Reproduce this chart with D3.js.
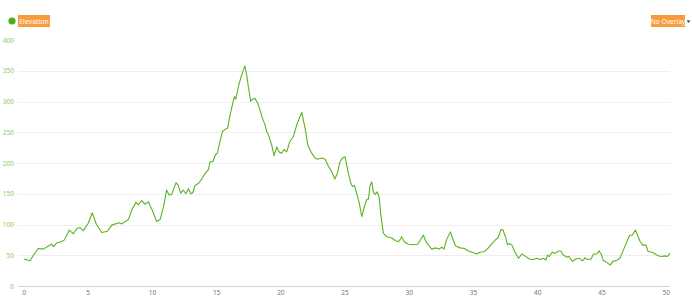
<!DOCTYPE html>
<html>
<head>
<meta charset="utf-8">
<script src="https://cdn.jsdelivr.net/npm/d3@7"></script>
<style>
  body { margin: 0; background: #fff; }
  svg { display: block; font-family: "Noto Sans", "DejaVu Sans", sans-serif; }
</style>
</head>
<body>
<div id="chart"></div>
<script>
// distance along route (km)
const distKm = [
  0, 0.47, 0.73, 1.1, 1.5, 1.9, 2.15, 2.3, 2.55, 2.9,
  3.15, 3.53, 3.84, 4.15, 4.36, 4.62, 5.0, 5.32, 5.6, 6.05,
  6.5, 6.83, 7.4, 7.6, 8.13, 8.4, 8.72, 8.9, 9.16, 9.42,
  9.68, 9.95, 10.33, 10.6, 10.9, 11.1, 11.3, 11.5, 11.84, 12.0,
  12.2, 12.4, 12.6, 12.8, 13.0, 13.15, 13.3, 13.6, 13.84, 14.1,
  14.35, 14.49, 14.7, 14.9, 15.06, 15.26, 15.45, 15.6, 15.86, 16.04,
  16.22, 16.38, 16.49, 16.7, 16.9, 17.08, 17.2, 17.34, 17.47, 17.65,
  17.8, 17.99, 18.2, 18.38, 18.56, 18.77, 18.9, 19.08, 19.29, 19.47,
  19.68, 19.86, 20.07, 20.25, 20.46, 20.7, 20.97, 21.24, 21.4, 21.63,
  21.75, 21.94, 22.1, 22.35, 22.66, 22.87, 23.19, 23.44, 23.7, 23.96,
  24.2, 24.4, 24.6, 24.8, 25.0, 25.2, 25.4, 25.57, 25.73, 25.9,
  26.1, 26.3, 26.5, 26.7, 26.82, 26.95, 27.08, 27.2, 27.34, 27.5,
  27.65, 27.8, 27.98, 28.25, 28.64, 28.9, 29.15, 29.28, 29.4, 29.6,
  29.93, 30.3, 30.66, 30.9, 31.1, 31.23, 31.44, 31.75, 32.06, 32.3,
  32.53, 32.7, 32.9, 33.2, 33.4, 33.6, 33.96, 34.3, 34.6, 35.0,
  35.25, 35.5, 35.85, 36.16, 36.4, 36.7, 36.9, 37.15, 37.3, 37.5,
  37.65, 37.8, 38.0, 38.2, 38.5, 38.76, 39.0, 39.35, 39.66, 39.93,
  40.24, 40.45, 40.63, 40.76, 40.9, 41.14, 41.35, 41.6, 41.8, 42.0,
  42.27, 42.45, 42.7, 42.97, 43.25, 43.5, 43.7, 43.87, 44.16, 44.34,
  44.6, 44.78, 44.94, 45.1, 45.4, 45.64, 45.85, 46.16, 46.4, 46.7,
  46.94, 47.15, 47.38, 47.6, 47.77, 47.98, 48.2, 48.42, 48.6, 48.9,
  49.15, 49.4, 49.66, 49.9, 50.1, 50.3
];

// elevation (m)
const elevM = [
  44, 41, 50, 61, 60, 65, 68, 64, 70, 72,
  75, 91, 85, 94, 95, 90, 102, 119, 102, 87,
  89, 99, 103, 101, 108, 124, 136, 132, 139, 133,
  137, 125, 105, 108, 132, 156, 148, 149, 168, 164,
  151, 156, 150, 158, 150, 152, 163, 167, 174, 183,
  189, 202, 202, 213, 216, 235, 251, 254, 257, 278,
  294, 308, 304, 325, 340, 351, 358, 343, 324, 300,
  304, 305, 297, 286, 273, 262, 251, 243, 229, 212,
  226, 218, 216, 222, 218, 235, 243, 262, 271, 282,
  270, 251, 229, 218, 208, 206, 208, 206, 195, 186,
  174, 183, 202, 208, 210, 189, 170, 162, 163, 151,
  135, 113, 129, 141, 141, 164, 169, 153, 149, 153,
  145, 113, 86, 80, 78, 74, 72, 75, 80, 72,
  68, 67, 68, 76, 83, 75, 68, 60, 62, 60,
  63, 60, 75, 88, 76, 65, 62, 61, 57, 54,
  52, 55, 56, 62, 68, 75, 78, 92, 91, 79,
  67, 69, 66, 56, 45, 52, 49, 44, 43, 45,
  43, 45, 42, 50, 48, 55, 53, 57, 57, 50,
  47, 48, 40, 44, 45, 41, 46, 43, 44, 52,
  52, 57, 52, 42, 38, 34, 40, 42, 45, 60,
  72, 82, 83, 91, 83, 72, 66, 67, 56, 55,
  52, 49, 48, 49, 48, 53
];

const xTicks = [0, 5, 10, 15, 20, 25, 30, 35, 40, 45, 50];
const yTicks = [0, 50, 100, 150, 200, 250, 300, 350, 400];
const seriesName = "Elevation";
const overlayLabel = "No Overlay";

const W = 692, H = 306;
const plotLeft = 18, plotRight = 670;

const lineColor = "#5ab31f";
const orange = "#f99a3c";

const svg = d3.select("#chart").append("svg")
  .attr("width", W)
  .attr("height", H);

const x = d3.scaleLinear()
  .domain([0, d3.max(distKm)])
  .range([24, plotRight]);

const y = d3.scaleLinear()
  .domain([0, 400])
  .range([286, 40]);

// gridlines
svg.append("g")
  .selectAll("line")
  .data(yTicks.filter(d => d > 0 && d < 400))
  .enter()
  .append("line")
  .attr("x1", plotLeft)
  .attr("x2", plotRight)
  .attr("y1", d => Math.round(y(d)) + 0.5)
  .attr("y2", d => Math.round(y(d)) + 0.5)
  .style("stroke", "#efefef")
  .style("stroke-width", 1);

// bottom axis line
svg.append("line")
  .attr("x1", plotLeft)
  .attr("x2", plotRight)
  .attr("y1", Math.round(y(0)) + 0.5)
  .attr("y2", Math.round(y(0)) + 0.5)
  .style("stroke", "#ccd6eb")
  .style("stroke-width", 1);

// y labels
svg.append("g")
  .selectAll("text")
  .data(yTicks)
  .enter()
  .append("text")
  .attr("x", 14)
  .attr("y", d => y(d) + 2.5)
  .attr("text-anchor", "end")
  .style("font-size", "6.5px")
  .style("fill", "#8dca5a")
  .text(d => d);

// x labels
svg.append("g")
  .selectAll("text")
  .data(xTicks)
  .enter()
  .append("text")
  .attr("x", d => x(d))
  .attr("y", 295)
  .attr("text-anchor", "middle")
  .style("font-size", "6.5px")
  .style("fill", "#777")
  .text(d => d);

// elevation line
const pts = distKm.map((d, i) => [d, elevM[i]]);
const line = d3.line()
  .x(d => x(d[0]))
  .y(d => y(d[1]));

svg.append("path")
  .datum(pts)
  .attr("d", line)
  .style("fill", "none")
  .style("stroke", lineColor)
  .style("stroke-width", 1.1)
  .style("stroke-linejoin", "round");

// legend (top left)
svg.append("circle")
  .attr("cx", 12)
  .attr("cy", 21)
  .attr("r", 3.6)
  .style("fill", "#4caf1a");

svg.append("rect")
  .attr("x", 18)
  .attr("y", 15)
  .attr("width", 32)
  .attr("height", 12)
  .style("fill", orange);

svg.append("text")
  .attr("x", 34)
  .attr("y", 23.8)
  .attr("text-anchor", "middle")
  .style("font-size", "6.9px")
  .style("fill", "#fff")
  .text(seriesName);

// overlay selector (top right)
svg.append("rect")
  .attr("x", 651)
  .attr("y", 15)
  .attr("width", 34)
  .attr("height", 12)
  .style("fill", orange);

svg.append("text")
  .attr("x", 668)
  .attr("y", 23.8)
  .attr("text-anchor", "middle")
  .style("font-size", "6.6px")
  .style("fill", "#fff")
  .text(overlayLabel);

svg.append("path")
  .attr("d", "M686.5,20.5 L690.5,20.5 L688.5,22.8 Z")
  .style("fill", "#333");
</script>
</body>
</html>
